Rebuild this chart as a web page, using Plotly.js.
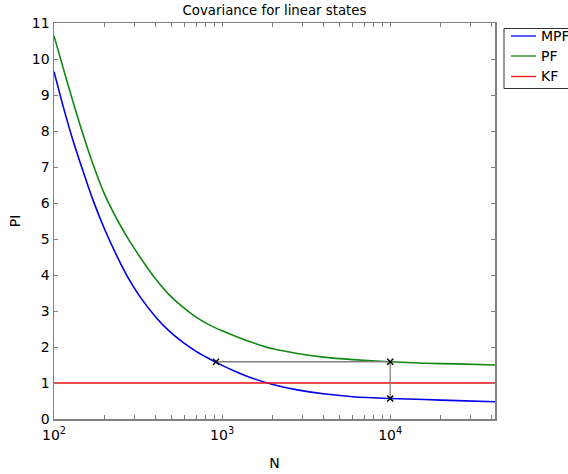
<!DOCTYPE html>
<html>
<head>
<meta charset="utf-8">
<script src="https://cdn.plot.ly/plotly-3.0.1.min.js"></script>
<style>html,body{margin:0;padding:0;background:#fff;}#chart{width:568px;height:474px;}</style>
</head>
<body>
<div id="chart"></div>
<script>
// Sample sizes N (log-scaled x axis)
const N = [100, 115, 130, 145, 170, 200, 240, 280, 330, 400, 480, 580, 700, 850, 1000, 1200, 1500, 2000, 2800, 4000, 6000, 10000, 16000, 25000, 42000];
// Covariance PI for the marginalized particle filter
const MPF = [9.65, 8.58, 7.72, 7.04, 6.1, 5.27, 4.47, 3.87, 3.35, 2.85, 2.46, 2.14, 1.88, 1.66, 1.49, 1.32, 1.14, 0.96, 0.81, 0.7, 0.62, 0.57, 0.54, 0.51, 0.48];
// Covariance PI for the standard particle filter
const PF = [10.64, 9.65, 8.8, 8.07, 7.1, 6.24, 5.5, 4.96, 4.45, 3.9, 3.47, 3.12, 2.83, 2.6, 2.45, 2.3, 2.13, 1.95, 1.82, 1.72, 1.65, 1.59, 1.55, 1.53, 1.5];
// Kalman filter (constant)
const KF_N = [100, 42000];
const KF = [1, 1];
// Comparison annotation: MPF at N~920 equals PF at N=1e4
const cmpN = [920, 10000, 10000];
const cmpPI = [1.59, 1.59, 0.57];
// Axis ticks
const xTickVals = [100,200,300,400,500,600,700,800,900,1000,2000,3000,4000,5000,6000,7000,8000,9000,10000,20000,30000,40000];
const xTickText = xTickVals.map(v => v === 100 ? '10<sup>2</sup>' : v === 1000 ? '10<sup>3</sup>' : v === 10000 ? '10<sup>4</sup>' : '');
// Legend entries
const legendNames = ['MPF', 'PF', 'KF'];
const legendColors = ['#0000ee', '#118811', '#ee1111'];

const FAM = 'DejaVu Sans, Verdana, sans-serif';

const traces = [
  {x: N, y: MPF, name: legendNames[0], mode: 'lines', line: {color: legendColors[0], width: 1.6, shape: 'spline', smoothing: 0.6}},
  {x: N, y: PF, name: legendNames[1], mode: 'lines', line: {color: legendColors[1], width: 1.6, shape: 'spline', smoothing: 0.6}},
  {x: KF_N, y: KF, name: legendNames[2], mode: 'lines', line: {color: legendColors[2], width: 1.6}},
  {x: cmpN, y: cmpPI, mode: 'lines+markers', name: 'comparison',
   line: {color: '#808080', width: 1.3},
   marker: {symbol: 'x-thin', size: 6, color: '#000', line: {color: '#000', width: 1.5}}}
];

// Manual legend (box at the right edge, clipped by the page like the reference)
const W = 441, H = 396, L = 54, T = 23;
const px2x = p => (p - L) / W;
const py2y = p => (T + H - p) / H;
const shapes = [{type: 'rect', xref: 'paper', yref: 'paper', x0: px2x(504), x1: px2x(620), y0: py2y(28.5), y1: py2y(88.5),
                 line: {color: '#333', width: 1}, fillcolor: '#fff', layer: 'above'}];
const annotations = [];
const rowY = [36, 56, 76.5];
legendNames.forEach((nm, i) => {
  shapes.push({type: 'line', xref: 'paper', yref: 'paper', x0: px2x(511), x1: px2x(536), y0: py2y(rowY[i]), y1: py2y(rowY[i]),
               line: {color: legendColors[i], width: 1.3}, layer: 'above'});
  annotations.push({xref: 'paper', yref: 'paper', x: px2x(539), y: py2y(rowY[i]), xanchor: 'left', yanchor: 'middle',
                    text: nm, showarrow: false, font: {family: FAM, size: 14, color: '#000'}});
});

const layout = {
  width: 568, height: 474,
  margin: {l: 54, r: 73, t: 23, b: 55, autoexpand: false},
  paper_bgcolor: '#fff', plot_bgcolor: '#fff',
  font: {family: FAM, size: 13, color: '#000'},
  showlegend: false,
  title: {text: 'Covariance for linear states', font: {family: FAM, size: 13.3, color: '#000'},
          x: 0.5, xref: 'paper', xanchor: 'center', y: 0.979, yref: 'container', yanchor: 'middle'},
  xaxis: {
    type: 'log', range: [2, Math.log10(42000)],
    tickvals: xTickVals, ticktext: xTickText,
    ticks: 'inside', ticklen: 4, tickcolor: '#808080', tickwidth: 1,
    showline: true, linecolor: '#808080', linewidth: 1.5, mirror: 'ticks',
    showgrid: false, zeroline: false, ticklabelstandoff: 3,
    tickfont: {family: FAM, size: 14, color: '#000'},
    title: {text: 'N', font: {family: FAM, size: 14, color: '#000'}, standoff: 16}
  },
  yaxis: {
    range: [0, 11], dtick: 1, tick0: 0,
    ticks: 'inside', ticklen: 4, tickcolor: '#808080', tickwidth: 1,
    showline: true, linecolor: '#808080', linewidth: 1.5, mirror: 'ticks',
    showgrid: false, zeroline: false,
    tickfont: {family: FAM, size: 14, color: '#000'},
    title: {text: 'PI', font: {family: FAM, size: 14, color: '#000'}, standoff: 8}
  },
  shapes: shapes,
  annotations: annotations
};

Plotly.newPlot('chart', traces, layout, {displayModeBar: false, staticPlot: true});
</script>
</body>
</html>
